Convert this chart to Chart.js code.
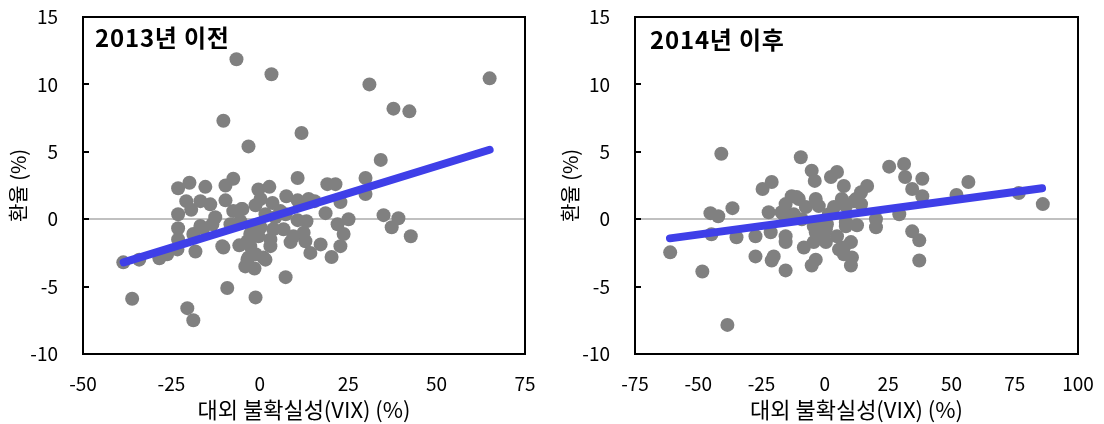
<!DOCTYPE html>
<html><head><meta charset="utf-8">
<script src="https://cdn.jsdelivr.net/npm/chart.js@4"></script>
<style>
html,body{margin:0;padding:0;background:#fff;}
#wrap{position:relative;width:1104px;height:424px;overflow:hidden;}
.box{position:absolute;top:0;width:552px;height:424px;}
.box canvas{display:block;}
.ttl{position:absolute;font:bold 24px "Noto Sans CJK KR";letter-spacing:0.8px;color:#000;white-space:nowrap;line-height:1;}
</style></head><body>
<div id="wrap">
<div class="box" style="left:0"><canvas id="c1" width="552" height="424"></canvas></div>
<div class="box" style="left:552px"><canvas id="c2" width="552" height="424"></canvas></div>
<div class="ttl" style="left:95px;top:25px">2013년 이전</div>
<div class="ttl" style="left:650px;top:27px">2014년 이후</div>
</div>
<script>
// ---- data ----
const preVix = [-6.6,3.3,65,31,37.8,42.3,-10.3,11.8,-3.2,34.2,29.9,-23.1,-19.9,-15.4,-9.7,-7.5,-0.4,2.7,10.7,19.1,21.4,29.9,7.5,-20.8,-16.8,-14,-9.7,-19.4,-23.1,-23.1,-18.8,-16,-12.6,-7.5,-4.9,-1.2,3.6,10.7,15.5,18.6,22.8,25.1,22,23.7,22.8,20.3,17.2,14.3,13.2,10.7,6.7,8.7,9.5,12.9,3.0,-0.4,-2.7,-3.5,-5.8,-10.3,-18.2,-23.3,-26.2,-28.4,-34.1,-38.6,1.6,-1.2,-3.5,-4.1,-1.5,7.3,-9.2,-1.2,-36.1,-20.5,-18.8,35,39.2,37.3,42.7,0.2,-16.8,-13.4,-23.1,-10.6,1.0,-3.2,-5.2,5.8,4.4,1.6,-8.3,-5.5,7.3,0.2,3.8,12.4,-0.8,-2.7,3.0,13.8];
const preFx  = [11.87,10.75,10.45,10,8.2,8.0,7.3,6.4,5.4,4.4,3.06,2.3,2.7,2.4,2.5,3.0,2.2,2.4,3.06,2.6,2.6,1.87,1.7,1.34,1.34,1.1,1.4,0.7,0.37,-0.67,-1.1,-0.67,0.15,0.6,0.75,1.04,1.2,1.4,1.34,0.45,1.27,0,-0.37,-1.1,-2.0,-2.8,-1.87,-2.5,-0.15,-0.07,-0.75,-1.7,-1.27,-1.64,-1.5,-1.27,-1.1,-1.64,-1.94,-2.1,-2.4,-2.24,-2.6,-2.9,-3.0,-3.2,-3.0,-2.6,-3.0,-3.5,-3.66,-4.3,-5.1,-5.8,-5.9,-6.6,-7.5,0.3,0.07,-0.6,-1.27,-0.6,-0.5,-0.37,-1.5,-2.0,-2.84,-2.84,0.75,0.6,0.15,0.37,-0.37,-0.15,0.37,1.5,-0.75,-1.0,-0.5,-2.0,-2.0,1.5];
const preTrendVix = [-38.5, 65];
const preTrendFx  = [-3.2, 5.15];

const postVix = [-40.9,-9.5,-5.2,-4.0,2.4,4.8,7.5,16.7,14.3,12.3,6.7,14.3,25.4,31.3,31.7,38.5,34.5,38.5,56.7,52.0,76.6,86.1,29.4,20.2,20.2,12.7,8.3,3.6,-3.6,-13.1,-15.5,-16.3,0.4,-3.6,0.4,-4.4,-15.5,-8.3,7.5,10.3,10.7,7.5,10.3,-3.6,-5.2,-15.5,34.5,37.3,37.3,-10.3,-7.5,-36.5,-45.2,-42.1,-22.2,-17.1,-12.3,-44.8,-34.9,-27.4,-21.4,-15.5,-0.4,-1.6,-61.1,-48.4,-27.4,-21.0,-20.2,-38.5,5.6,-21.0,-24.6,-2.4,1.6,4.8,-11.1,8.3,11.5,-9.1,-4.4,0.8,-2.4,8.3];
const postFx  = [4.85,4.6,3.6,2.84,3.13,3.5,2.46,2.46,2.0,1.5,1.5,1.12,3.9,4.1,3.13,3.0,2.24,1.7,2.76,1.8,1.94,1.12,0.37,0,-0.6,-0.45,-0.22,0.9,1.5,1.7,1.12,0.37,-0.75,-0.97,-1.7,-1.7,-1.27,-2.1,-2.1,-1.7,-2.84,-2.6,-3.43,-3.0,-3.43,-3.8,-0.9,-1.57,-3.06,1.5,0.9,0.82,0.45,0.22,0.52,0.52,0.37,-1.12,-1.34,-1.27,-0.97,-1.7,-1.12,-0.37,-2.46,-3.88,-2.76,-3.06,-2.76,-7.84,-2.24,2.76,2.24,0.97,0.37,-1.27,1.64,0.97,1.34,0,-0.5,-0.37,-1.27,-0.52];
const postTrendVix = [-61.2, 85.8];
const postTrendFx  = [-1.42, 2.29];

const yTicks = [-10, -5, 0, 5, 10, 15];
const preXTicks = [-50, -25, 0, 25, 50, 75];
const postXTicks = [-75, -50, -25, 0, 25, 50, 75, 100];

const xTitle = '대외 불확실성(VIX) (%)';
const yTitle = '환율 (%)';

// ---- helpers ----
const FONT = '"Noto Sans CJK KR", "Noto Sans", sans-serif';
const zip = (xs, ys) => xs.map((x, i) => ({x, y: ys[i]}));

const framePlugin = {
  id: 'frame',
  afterDraw(chart) {
    const {ctx, chartArea: a, scales} = chart;
    ctx.save();
    ctx.strokeStyle = '#000';
    ctx.lineWidth = 2;
    ctx.beginPath();
    yTicks.forEach(v => {
      const y = Math.round(scales.y.getPixelForValue(v));
      ctx.moveTo(a.left, y);
      ctx.lineTo(a.left + 6, y);
    });
    ctx.stroke();
    ctx.strokeRect(a.left, a.top, a.right - a.left, a.bottom - a.top);
    ctx.restore();
  }
};

function makeChart(id, vix, fx, tVix, tFx, xTicks, padRight) {
  const xMin = xTicks[0], xMax = xTicks[xTicks.length - 1];
  return new Chart(document.getElementById(id), {
    type: 'scatter',
    data: {
      datasets: [
        {
          type: 'line',
          data: zip(tVix, tFx),
          borderColor: '#3f3fe8',
          borderWidth: 8,
          borderCapStyle: 'round',
          pointRadius: 0,
          fill: false,
          order: 0
        },
        {
          data: zip(vix, fx),
          backgroundColor: '#808080',
          borderWidth: 0,
          pointRadius: 7,
          pointHoverRadius: 7,
          order: 1
        }
      ]
    },
    options: {
      responsive: false,
      animation: false,
      events: [],
      layout: {padding: {left: 0, right: padRight, top: 17, bottom: 0}},
      plugins: {legend: {display: false}, tooltip: {enabled: false}},
      scales: {
        x: {
          type: 'linear', min: xMin, max: xMax,
          afterBuildTicks: s => { s.ticks = xTicks.map(v => ({value: v})); },
          afterFit: s => { s.height = 70; s.paddingLeft = 0; s.paddingRight = 0; s.paddingTop = 0; s.paddingBottom = 0; },
          grid: {display: false, drawTicks: false},
          border: {display: false},
          ticks: {font: {family: FONT, size: 19}, color: '#000', padding: 18, maxRotation: 0},
          title: {display: true, text: xTitle, font: {family: FONT, size: 22}, color: '#000', padding: {top: 0, bottom: 1}}
        },
        y: {
          type: 'linear', min: -10, max: 15,
          afterBuildTicks: s => { s.ticks = yTicks.map(v => ({value: v})); },
          afterFit: s => { s.width = 83; s.paddingTop = 0; s.paddingBottom = 0; s.paddingLeft = 0; s.paddingRight = 0; },
          grid: {
            drawTicks: false,
            lineWidth: 2,
            color: c => (c.tick && c.tick.value === 0) ? '#c0c0c0' : 'rgba(0,0,0,0)'
          },
          border: {display: false},
          ticks: {font: {family: FONT, size: 19}, color: '#000', padding: 25},
          title: {display: true, text: yTitle, font: {family: FONT, size: 20}, color: '#000', padding: {top: 6, bottom: 0}}
        }
      }
    },
    plugins: [framePlugin]
  });
}

makeChart('c1', preVix, preFx, preTrendVix, preTrendFx, preXTicks, 27);
makeChart('c2', postVix, postFx, postTrendVix, postTrendFx, postXTicks, 26);
</script>
</body></html>
